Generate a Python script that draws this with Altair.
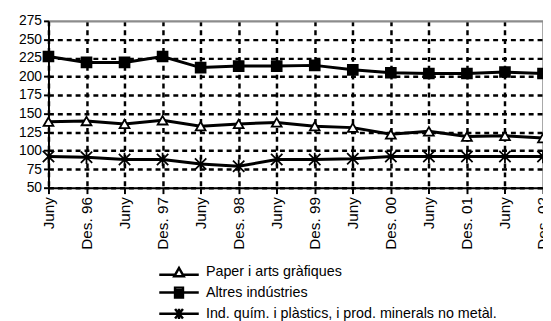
import altair as alt
import pandas as pd

periods = ["Juny 96", "Des. 96", "Juny 97", "Des. 97", "Juny 98", "Des. 98", "Juny 99",
           "Des. 99", "Juny 00", "Des. 00", "Juny 01", "Des. 01", "Juny 02", "Des. 02"]
series = ["Paper i arts gràfiques", "Altres indústries",
          "Ind. quím. i plàstics, i prod. minerals no metàl."]
paper = [139, 140, 136, 141, 133, 136, 138, 133, 131, 122, 126, 119, 120, 117]
altres = [227, 219, 219, 227, 212, 214, 214, 215, 209, 205, 204, 204, 206, 204]
quimica = [92, 91, 88, 88, 82, 79, 88, 88, 89, 92, 92, 92, 92, 92]
y_ticks = [50, 75, 100, 125, 150, 175, 200, 225, 250, 275]
title_text = "química i altres. 1996-2002"

rows = []
for s, vals in zip(series, [paper, altres, quimica]):
    for p, v in zip(periods, vals):
        rows.append({"periode": p, "serie": s, "valor": v})
df = pd.DataFrame(rows)

FONT = "Liberation Sans"
STAR = "M-1.15,-1.15L1.15,1.15M-1.15,1.15L1.15,-1.15M0,-1.35V1.35"
LEG_TRI = "M-5,0.6H-1.1M1.1,0.6H5M0,-1.1L1.2,1L-1.2,1Z"
LEG_SQ = "M-5,0H5M-1,-1.25H1V1.25H-1ZM-1,-0.6H1M-1,0H1M-1,0.6H1"
LEG_STAR = "M-5,0H5M-1,-1.2L1,1.2M-1,1.2L1,-1.2M0,-1.3V1.3"

x = alt.X(
    "periode:O", sort=periods, title=None,
    scale=alt.Scale(type="point", padding=0),
    axis=alt.Axis(
        labelExpr="substring(datum.value, 0, 4) === 'Juny' ? 'Juny' : datum.value",
        labelAngle=270, labelAlign="right", labelBaseline="middle",
        labelFont=FONT, labelFontSize=15.5, labelColor="black", labelPadding=3,
        labelOverlap=False, labelBound=False, labelFlush=False,
        domainColor="black", domainWidth=2, tickColor="black", tickSize=6, tickWidth=2,
        grid=True,
        gridColor={"condition": {"test": "datum.value === 'Des. 02'", "value": "#8c8c8c"}, "value": "black"},
        gridDash={"condition": {"test": "datum.value === 'Des. 02'", "value": []}, "value": [5, 4]},
        gridWidth=2.5, gridOpacity=1,
    ),
)
y = alt.Y(
    "valor:Q", title=None,
    scale=alt.Scale(domain=[50, 275], nice=False, zero=False),
    axis=alt.Axis(
        values=y_ticks, labelFont=FONT, labelFontSize=14, labelColor="black", labelPadding=2,
        domainColor="black", domainWidth=2, tickColor="black", tickSize=5, tickWidth=2,
        grid=True,
        gridColor={"condition": {"test": "datum.value === 275", "value": "#8c8c8c"}, "value": "black"},
        gridDash={"condition": {"test": "datum.value === 275", "value": []}, "value": [5, 4]},
        gridWidth=2.5, gridOpacity=1,
    ),
)

base = alt.Chart(df)

lines = base.mark_line(color="black", strokeWidth=3).encode(x=x, y=y, detail="serie:N")

pts = base.mark_point(filled=True, stroke="black", strokeWidth=1.8, opacity=1, size=100).encode(
    x=x, y=y,
    shape=alt.Shape("serie:N", scale=alt.Scale(domain=series, range=["triangle-up", "square", STAR]), legend=None),
    fill=alt.Fill("serie:N", scale=alt.Scale(domain=series, range=["white", "black", "black"]), legend=None),
)

leg = base.transform_filter("false").mark_point(
    filled=False, color="black", strokeWidth=2.5, opacity=1
).encode(
    shape=alt.Shape(
        "serie:N",
        scale=alt.Scale(domain=series, range=[LEG_TRI, LEG_SQ, LEG_STAR]),
        legend=alt.Legend(
            title=None, orient="none", legendX=125, legendY=247.5, direction="vertical",
            symbolSize=64, symbolStrokeWidth=2.5, symbolStrokeColor="black",
            labelFont=FONT, labelFontSize=14.5, labelColor="black",
            labelOffset=20, rowPadding=0.5, padding=0, labelLimit=0,
        ),
    )
)

chart = (
    alt.layer(lines, pts, leg)
    .resolve_scale(shape="independent")
    .resolve_legend(shape="independent")
    .properties(
        width=501, height=169,
        autosize=alt.AutoSizeParams(type="none"),
        padding={"left": 41, "top": 11, "right": 0, "bottom": 133},
        title=alt.TitleParams(title_text, font=FONT, fontSize=13, fontWeight="bold",
                              color="black", anchor="middle", offset=7, dx=-12),
    )
    .configure_view(stroke=None)
    .configure(font=FONT)
)

chart.save("out.html", embed_options={"renderer": "svg", "actions": False})
